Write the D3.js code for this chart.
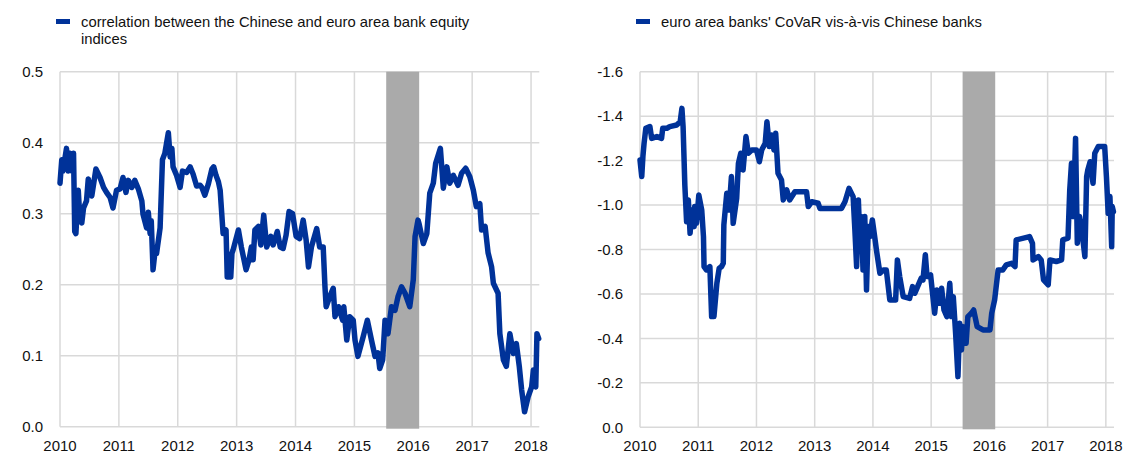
<!DOCTYPE html>
<html>
<head>
<meta charset="utf-8">
<script src="https://cdn.jsdelivr.net/npm/d3@7.9.0/dist/d3.min.js"></script>
<style>
  body { margin: 0; background: #fff; }
  svg { display: block; font-family: Arial, "Liberation Sans", sans-serif; }
</style>
</head>
<body>
<svg width="1124" height="454"></svg>
<script>
// weekly-ish readings, [decimal year, value]
const corrSeries = [
  [2010.00,0.343],[2010.03,0.376],[2010.05,0.36],[2010.11,0.392],[2010.14,0.36],[2010.17,0.385],[2010.20,0.36],
  [2010.23,0.385],[2010.25,0.275],[2010.27,0.272],[2010.31,0.333],[2010.34,0.29],[2010.37,0.287],[2010.40,0.308],
  [2010.45,0.318],[2010.48,0.349],[2010.54,0.325],[2010.61,0.363],[2010.68,0.351],[2010.74,0.337],[2010.79,0.33],
  [2010.85,0.323],[2010.90,0.308],[2010.96,0.333],[2011.02,0.335],[2011.07,0.351],[2011.12,0.33],[2011.16,0.347],
  [2011.22,0.337],[2011.27,0.347],[2011.33,0.335],[2011.39,0.318],[2011.41,0.299],[2011.47,0.28],[2011.50,0.302],
  [2011.53,0.272],[2011.55,0.29],[2011.58,0.221],[2011.61,0.244],[2011.64,0.244],[2011.70,0.28],[2011.74,0.376],
  [2011.78,0.385],[2011.84,0.414],[2011.87,0.38],[2011.90,0.392],[2011.92,0.366],[2011.98,0.354],[2012.04,0.337],
  [2012.08,0.36],[2012.15,0.358],[2012.21,0.366],[2012.26,0.356],[2012.32,0.339],[2012.38,0.340],[2012.41,0.337],
  [2012.46,0.326],[2012.52,0.342],[2012.58,0.363],[2012.61,0.366],[2012.65,0.354],[2012.69,0.345],[2012.72,0.333],
  [2012.77,0.272],[2012.82,0.277],[2012.84,0.211],[2012.90,0.211],[2012.92,0.244],[2012.94,0.249],[2013.03,0.277],
  [2013.08,0.253],[2013.16,0.221],[2013.21,0.235],[2013.25,0.253],[2013.28,0.235],[2013.31,0.277],[2013.37,0.282],
  [2013.41,0.256],[2013.46,0.298],[2013.51,0.253],[2013.58,0.268],[2013.62,0.256],[2013.69,0.275],[2013.74,0.253],
  [2013.79,0.251],[2013.84,0.27],[2013.89,0.303],[2013.95,0.3],[2014.01,0.268],[2014.07,0.265],[2014.13,0.291],
  [2014.18,0.263],[2014.22,0.225],[2014.27,0.253],[2014.36,0.279],[2014.41,0.253],[2014.47,0.253],[2014.50,0.197],
  [2014.52,0.169],[2014.58,0.183],[2014.64,0.195],[2014.67,0.155],[2014.73,0.169],[2014.80,0.15],[2014.82,0.169],
  [2014.87,0.122],[2014.92,0.155],[2014.98,0.15],[2015.01,0.122],[2015.06,0.099],[2015.15,0.127],[2015.22,0.15],
  [2015.29,0.122],[2015.35,0.099],[2015.40,0.104],[2015.43,0.082],[2015.48,0.094],[2015.52,0.15],[2015.57,0.131],
  [2015.63,0.169],[2015.69,0.164],[2015.74,0.183],[2015.80,0.197],[2015.86,0.188],[2015.94,0.169],[2016.00,0.207],
  [2016.03,0.268],[2016.05,0.277],[2016.08,0.291],[2016.10,0.285],[2016.17,0.258],[2016.23,0.272],[2016.28,0.329],
  [2016.34,0.343],[2016.38,0.371],[2016.46,0.392],[2016.51,0.336],[2016.57,0.366],[2016.62,0.343],[2016.68,0.354],
  [2016.76,0.34],[2016.82,0.357],[2016.89,0.364],[2016.96,0.352],[2017.02,0.333],[2017.07,0.31],[2017.13,0.314],
  [2017.16,0.277],[2017.22,0.282],[2017.27,0.245],[2017.33,0.225],[2017.36,0.202],[2017.44,0.188],[2017.47,0.131],
  [2017.53,0.094],[2017.58,0.085],[2017.64,0.131],[2017.70,0.103],[2017.75,0.117],[2017.80,0.085],[2017.84,0.052],
  [2017.89,0.021],[2017.95,0.042],[2018.01,0.056],[2018.04,0.08],[2018.08,0.056],[2018.10,0.131],[2018.13,0.124]
];

const covarSeries = [
  [2010.00,-1.203],[2010.03,-1.128],[2010.05,-1.218],[2010.07,-1.278],[2010.10,-1.345],[2010.17,-1.353],[2010.20,-1.300],
  [2010.29,-1.308],[2010.37,-1.300],[2010.39,-1.345],[2010.46,-1.345],[2010.51,-1.353],[2010.63,-1.36],[2010.69,-1.375],
  [2010.72,-1.435],[2010.74,-1.353],[2010.77,-1.09],[2010.80,-0.925],[2010.83,-1.023],[2010.86,-0.873],[2010.89,-0.978],
  [2010.93,-0.903],[2010.94,-0.993],[2010.97,-0.918],[2011.01,-1.045],[2011.06,-0.978],[2011.09,-0.858],[2011.10,-0.723],
  [2011.14,-0.708],[2011.20,-0.723],[2011.23,-0.498],[2011.27,-0.498],[2011.32,-0.648],[2011.36,-0.716],[2011.40,-0.723],
  [2011.43,-0.738],[2011.44,-0.91],[2011.49,-1.053],[2011.53,-0.978],[2011.57,-1.128],[2011.60,-0.918],[2011.66,-1.03],
  [2011.69,-1.188],[2011.73,-1.233],[2011.77,-1.158],[2011.82,-1.308],[2011.86,-1.233],[2011.92,-1.248],[2012.00,-1.248],
  [2012.05,-1.195],[2012.09,-1.248],[2012.15,-1.278],[2012.18,-1.375],[2012.22,-1.263],[2012.26,-1.315],[2012.30,-1.248],
  [2012.33,-1.323],[2012.37,-1.143],[2012.43,-1.113],[2012.46,-1.023],[2012.52,-1.068],[2012.57,-1.023],[2012.66,-1.06],
  [2012.86,-1.06],[2012.89,-0.993],[2012.95,-1.015],[2013.06,-1.008],[2013.09,-0.985],[2013.46,-0.985],[2013.52,-1.015],
  [2013.59,-1.075],[2013.66,-1.038],[2013.69,-0.888],[2013.72,-0.723],[2013.75,-1.023],[2013.78,-0.813],[2013.80,-0.948],
  [2013.83,-0.708],[2013.86,-0.948],[2013.89,-0.618],[2013.92,-0.903],[2013.95,-0.858],[2013.99,-0.933],[2014.03,-0.858],
  [2014.06,-0.798],[2014.12,-0.693],[2014.18,-0.708],[2014.23,-0.708],[2014.29,-0.573],[2014.39,-0.573],[2014.42,-0.753],
  [2014.46,-0.678],[2014.52,-0.588],[2014.63,-0.580],[2014.68,-0.633],[2014.72,-0.603],[2014.78,-0.641],[2014.83,-0.671],
  [2014.86,-0.663],[2014.90,-0.776],[2014.93,-0.678],[2014.99,-0.686],[2015.03,-0.588],[2015.06,-0.513],[2015.10,-0.618],
  [2015.14,-0.558],[2015.18,-0.626],[2015.22,-0.528],[2015.27,-0.498],[2015.32,-0.648],[2015.35,-0.498],[2015.38,-0.588],
  [2015.42,-0.423],[2015.46,-0.228],[2015.49,-0.468],[2015.52,-0.348],[2015.55,-0.453],[2015.60,-0.378],[2015.63,-0.498],
  [2015.69,-0.513],[2015.73,-0.528],[2015.79,-0.453],[2015.89,-0.438],[2016.01,-0.438],[2016.04,-0.513],[2016.09,-0.573],
  [2016.15,-0.708],[2016.23,-0.708],[2016.29,-0.731],[2016.38,-0.738],[2016.44,-0.723],[2016.46,-0.843],[2016.69,-0.858],
  [2016.74,-0.828],[2016.75,-0.753],[2016.84,-0.768],[2016.89,-0.753],[2016.93,-0.663],[2017.01,-0.641],[2017.04,-0.753],
  [2017.15,-0.746],[2017.24,-0.753],[2017.26,-0.843],[2017.35,-0.851],[2017.38,-1.068],[2017.41,-1.188],[2017.44,-0.948],
  [2017.48,-1.300],[2017.51,-0.828],[2017.55,-0.948],[2017.58,-0.903],[2017.64,-0.768],[2017.67,-1.128],[2017.69,-1.158],
  [2017.73,-1.195],[2017.78,-1.098],[2017.81,-1.233],[2017.87,-1.263],[2017.98,-1.263],[2018.01,-1.128],[2018.04,-0.963],
  [2018.07,-1.038],[2018.10,-0.813],[2018.11,-0.993],[2018.13,-0.97]
];

const yearTicks = [2010, 2011, 2012, 2013, 2014, 2015, 2016, 2017, 2018];
const corrTicks = [0, 0.1, 0.2, 0.3, 0.4, 0.5];
const covarTicks = [0, -0.2, -0.4, -0.6, -0.8, -1.0, -1.2, -1.4, -1.6];
const shadedPeriod = [2015.54, 2016.1];
const corrLegend = ['correlation between the Chinese and euro area bank equity', 'indices'];
const covarLegend = ["euro area banks' CoVaR vis-\u00e0-vis Chinese banks"];

const svg = d3.select('svg');

function drawPanel(opts) {
  const x = d3.scaleLinear().domain([2010, 2018.14]).range([opts.left, opts.right]);
  const y = d3.scaleLinear().domain(opts.yDomain).range([opts.bottom, opts.top]);
  const g = svg.append('g');

  // legend
  g.append('rect')
    .attr('x', opts.legendX).attr('y', 19)
    .attr('width', 14).attr('height', 5)
    .attr('fill', '#003299');
  opts.legend.forEach((line, i) => {
    g.append('text')
      .attr('x', opts.legendX + 25).attr('y', 27 + i * 17)
      .attr('font-size', 14.8).attr('fill', '#111')
      .text(line);
  });

  // gridlines
  g.selectAll('.hgrid').data(opts.yTicks).join('line')
    .attr('x1', opts.left).attr('x2', opts.right)
    .attr('y1', d => y(d)).attr('y2', d => y(d))
    .attr('stroke', '#d9d9d9').attr('stroke-width', 1.5);
  g.selectAll('.vgrid').data(yearTicks).join('line')
    .attr('x1', d => x(d)).attr('x2', d => x(d))
    .attr('y1', opts.top).attr('y2', opts.bottom)
    .attr('stroke', '#d9d9d9').attr('stroke-width', 1.5);

  // shaded period
  g.append('rect')
    .attr('x', x(shadedPeriod[0]))
    .attr('width', x(shadedPeriod[1]) - x(shadedPeriod[0]))
    .attr('y', opts.top).attr('height', opts.bottom - opts.top + 2)
    .attr('fill', '#aaaaaa');

  // tick labels
  g.selectAll('.ylab').data(opts.yTicks).join('text')
    .attr('x', opts.left - 17).attr('y', d => y(d)).attr('dy', '0.35em')
    .attr('text-anchor', 'end').attr('font-size', 15).attr('fill', '#111')
    .text(d => d.toFixed(1));
  g.selectAll('.xlab').data(yearTicks).join('text')
    .attr('x', d => x(d)).attr('y', 451)
    .attr('text-anchor', 'middle').attr('font-size', 15).attr('fill', '#111')
    .text(d => d);

  // series
  const line = d3.line().x(d => x(d[0])).y(d => y(d[1]));
  g.append('path')
    .attr('d', line(opts.series))
    .attr('fill', 'none')
    .attr('stroke', '#003299')
    .attr('stroke-width', 5.5)
    .attr('stroke-linejoin', 'round')
    .attr('stroke-linecap', 'round');
}

drawPanel({
  series: corrSeries, yTicks: corrTicks, yDomain: [0, 0.5],
  left: 60, right: 539.3, top: 71.7, bottom: 426.7,
  legend: corrLegend, legendX: 56
});

drawPanel({
  series: covarSeries, yTicks: covarTicks, yDomain: [0, -1.6],
  left: 640, right: 1114, top: 71.7, bottom: 427.3,
  legend: covarLegend, legendX: 636
});
</script>
</body>
</html>
